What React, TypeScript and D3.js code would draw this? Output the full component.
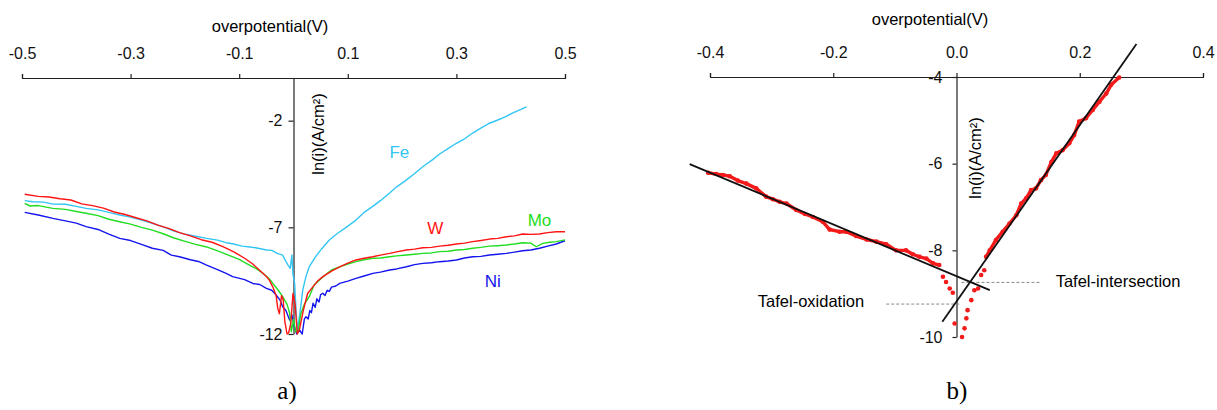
import React, { useEffect, useRef } from 'react';
import * as d3 from 'd3';

type Pt = [number, number];

// ---- panel a: ln(i) vs overpotential for four metals ----
const ticksA = [-0.5, -0.3, -0.1, 0.1, 0.3, 0.5];
const yTicksA = [-2, -7, -12];

const feCurve: Pt[] = [
  [-0.495, -5.75], [-0.48, -5.8], [-0.46, -5.82], [-0.443, -5.91], [-0.42, -5.92], [-0.4, -6.02],
  [-0.382, -6.11], [-0.36, -6.18], [-0.34, -6.3], [-0.32, -6.42], [-0.3, -6.52], [-0.28, -6.66],
  [-0.26, -6.81], [-0.24, -6.98], [-0.22, -7.18], [-0.2, -7.32], [-0.18, -7.42], [-0.16, -7.52],
  [-0.14, -7.6], [-0.124, -7.72], [-0.11, -7.78], [-0.095, -7.88], [-0.08, -7.92], [-0.065, -7.98],
  [-0.05, -8.06], [-0.04, -8.08], [-0.03, -8.22], [-0.02, -8.3], [-0.014, -8.6], [-0.01, -8.77],
  [-0.006, -8.92], [-0.003, -8.3], [-0.001, -9.2], [0.002, -9.6], [0.005, -11.0], [0.007, -11.81],
  [0.012, -11.0], [0.017, -9.94], [0.023, -9.3], [0.029, -8.85], [0.04, -8.4], [0.052, -8.0],
  [0.066, -7.59], [0.08, -7.3], [0.097, -7.0], [0.115, -6.66], [0.13, -6.3], [0.146, -6.02],
  [0.16, -5.75], [0.177, -5.39], [0.19, -5.1], [0.207, -4.8], [0.222, -4.5], [0.238, -4.16],
  [0.255, -3.85], [0.27, -3.55], [0.285, -3.3], [0.3, -3.06], [0.315, -2.85], [0.33, -2.58],
  [0.345, -2.35], [0.361, -2.12], [0.375, -1.98], [0.39, -1.82], [0.405, -1.62], [0.418, -1.48],
  [0.429, -1.35],
];

const wCurve: Pt[] = [
  [-0.495, -5.45], [-0.47, -5.55], [-0.45, -5.58], [-0.43, -5.66], [-0.41, -5.72], [-0.39, -5.9],
  [-0.37, -5.98], [-0.35, -6.1], [-0.33, -6.28], [-0.31, -6.4], [-0.29, -6.55], [-0.27, -6.7],
  [-0.25, -6.9], [-0.23, -7.05], [-0.21, -7.25], [-0.19, -7.4], [-0.17, -7.58], [-0.15, -7.7],
  [-0.13, -7.9], [-0.11, -8.15], [-0.09, -8.45], [-0.075, -8.72], [-0.063, -9.0], [-0.05, -9.3],
  [-0.044, -9.5], [-0.038, -9.8], [-0.032, -10.2], [-0.029, -10.8], [-0.026, -11.05], [-0.022, -10.2],
  [-0.019, -10.4], [-0.016, -11.4], [-0.012, -12], [-0.009, -11.95], [-0.005, -11.5], [-0.001, -10.1],
  [0.003, -10.6], [0.007, -12], [0.011, -11.8], [0.018, -10.9], [0.026, -10.1], [0.036, -9.78],
  [0.045, -9.5], [0.054, -9.31], [0.07, -9.05], [0.085, -8.85], [0.1, -8.68], [0.115, -8.53],
  [0.13, -8.45], [0.146, -8.38], [0.16, -8.3], [0.177, -8.22], [0.19, -8.15], [0.208, -8.06],
  [0.223, -8.02], [0.238, -7.96], [0.254, -7.94], [0.269, -7.88], [0.285, -7.84], [0.3, -7.78],
  [0.315, -7.74], [0.33, -7.67], [0.345, -7.62], [0.361, -7.55], [0.376, -7.52], [0.392, -7.44],
  [0.407, -7.4], [0.422, -7.31], [0.437, -7.33], [0.453, -7.31], [0.468, -7.25], [0.484, -7.21],
  [0.5, -7.21],
];

const moCurve: Pt[] = [
  [-0.495, -5.88], [-0.485, -6.0], [-0.47, -5.98], [-0.443, -6.11], [-0.42, -6.16], [-0.4, -6.26],
  [-0.382, -6.34], [-0.36, -6.45], [-0.34, -6.62], [-0.32, -6.74], [-0.3, -6.85], [-0.28, -7.0],
  [-0.26, -7.13], [-0.24, -7.3], [-0.22, -7.5], [-0.198, -7.67], [-0.18, -7.8], [-0.16, -7.92],
  [-0.136, -8.14], [-0.12, -8.3], [-0.1, -8.5], [-0.087, -8.69], [-0.07, -8.92], [-0.056, -9.16],
  [-0.045, -9.4], [-0.038, -9.63], [-0.028, -9.95], [-0.02, -10.25], [-0.012, -10.6], [-0.007, -11.03],
  [-0.004, -11.9], [0.0, -11.3], [0.004, -11.9], [0.009, -11.8], [0.013, -11.1], [0.02, -10.6],
  [0.029, -10.25], [0.038, -9.7], [0.048, -9.47], [0.06, -9.2], [0.07, -9.0], [0.085, -8.85],
  [0.1, -8.72], [0.115, -8.61], [0.13, -8.52], [0.146, -8.45], [0.16, -8.44], [0.177, -8.38],
  [0.19, -8.34], [0.208, -8.3], [0.223, -8.26], [0.238, -8.22], [0.254, -8.2], [0.269, -8.14],
  [0.285, -8.12], [0.3, -8.06], [0.315, -8.04], [0.33, -7.98], [0.345, -7.94], [0.361, -7.88],
  [0.376, -7.86], [0.392, -7.83], [0.407, -7.78], [0.422, -7.72], [0.437, -7.74], [0.447, -7.91],
  [0.459, -7.75], [0.472, -7.7], [0.484, -7.67], [0.5, -7.59],
];

const niCurve: Pt[] = [
  [-0.495, -6.3], [-0.47, -6.42], [-0.443, -6.58], [-0.42, -6.7], [-0.4, -6.8], [-0.382, -6.97],
  [-0.36, -7.1], [-0.34, -7.32], [-0.32, -7.52], [-0.3, -7.62], [-0.28, -7.8], [-0.26, -7.98],
  [-0.24, -8.08], [-0.225, -8.3], [-0.21, -8.38], [-0.19, -8.52], [-0.175, -8.6], [-0.16, -8.77],
  [-0.14, -8.98], [-0.125, -9.15], [-0.112, -9.31], [-0.09, -9.45], [-0.075, -9.63], [-0.062, -9.68],
  [-0.05, -9.86], [-0.04, -9.95], [-0.032, -10.17], [-0.025, -10.4], [-0.02, -10.72], [-0.014, -10.9],
  [-0.007, -11.35], [-0.003, -11.1], [0.002, -11.7], [0.006, -12], [0.011, -11.81], [0.016, -12],
  [0.02, -11.3], [0.023, -11.19], [0.027, -11.3], [0.03, -10.9], [0.033, -11.0], [0.036, -10.56],
  [0.04, -10.75], [0.043, -10.35], [0.047, -10.5], [0.05, -10.15], [0.054, -10.09], [0.058, -10.2],
  [0.062, -9.95], [0.066, -10.0], [0.07, -9.8], [0.078, -9.75], [0.085, -9.63], [0.1, -9.52],
  [0.115, -9.39], [0.13, -9.28], [0.146, -9.16], [0.16, -9.1], [0.177, -9.0], [0.19, -8.95],
  [0.208, -8.85], [0.223, -8.75], [0.238, -8.69], [0.254, -8.66], [0.269, -8.61], [0.285, -8.58],
  [0.3, -8.53], [0.315, -8.44], [0.33, -8.38], [0.345, -8.36], [0.361, -8.3], [0.376, -8.26],
  [0.392, -8.22], [0.407, -8.16], [0.422, -8.1], [0.437, -8.06], [0.453, -7.98], [0.468, -7.88],
  [0.484, -7.78], [0.5, -7.63],
];

const seriesNames = ['Fe', 'Ni', 'Mo', 'W'];
const seriesColors = ['#33c6f4', '#1414ee', '#22dd22', '#ff1414'];
const seriesData = [feCurve, niCurve, moCurve, wCurve];
// where each metal's name sits, in data units
const seriesLabelAt: Pt[] = [[0.195, -3.45], [0.367, -9.5], [0.453, -6.65], [0.261, -7.03]];

// ---- panel b: Tafel extrapolation ----
const ticksB = [-0.4, -0.2, 0.0, 0.2, 0.4];
const yTicksB = [-4, -6, -8, -10];

const tafelPoints: Pt[] = [
  [-0.403, -6.21], [-0.39, -6.24], [-0.379, -6.26], [-0.368, -6.29], [-0.355, -6.39], [-0.341, -6.46],
  [-0.325, -6.57], [-0.309, -6.76], [-0.298, -6.82], [-0.287, -6.88], [-0.276, -6.92], [-0.26, -7.07],
  [-0.246, -7.16], [-0.233, -7.23], [-0.217, -7.34], [-0.206, -7.52], [-0.19, -7.57], [-0.179, -7.57],
  [-0.163, -7.67], [-0.146, -7.75], [-0.13, -7.8], [-0.114, -7.86], [-0.098, -8.0], [-0.082, -8.0],
  [-0.071, -8.09], [-0.06, -8.15], [-0.049, -8.19], [-0.038, -8.3], [-0.028, -8.34], [-0.022, -8.61],
  [-0.017, -8.73], [-0.011, -8.88], [-0.006, -8.98], [-0.003, -9.69], [0.009, -10.0], [0.013, -9.8],
  [0.016, -9.57], [0.018, -9.38], [0.024, -9.15], [0.029, -8.92], [0.035, -8.88], [0.04, -8.57],
  [0.045, -8.46], [0.048, -8.15], [0.054, -8.0], [0.064, -7.76], [0.075, -7.57], [0.086, -7.38],
  [0.097, -7.19], [0.105, -6.92], [0.113, -6.8], [0.121, -6.61], [0.129, -6.57], [0.137, -6.38],
  [0.145, -6.26], [0.154, -5.96], [0.162, -5.76], [0.172, -5.69], [0.183, -5.53], [0.191, -5.34],
  [0.199, -5.03], [0.21, -4.95], [0.221, -4.76], [0.232, -4.57], [0.243, -4.38], [0.251, -4.18],
  [0.264, -4.01],
];

const cathodicFit: Pt[] = [[-0.433, -6.01], [0.054, -8.92]];
const anodicFit: Pt[] = [[-0.023, -9.65], [0.292, -3.24]];
const intersectionGuide: Pt[] = [[0.008, -8.74], [0.135, -8.74]];
const oxidationGuide: Pt[] = [[-0.114, -9.24], [0.005, -9.24]];

const FONT = '"Liberation Sans", Arial, sans-serif';

const App = () => {
  const svgRef = useRef<SVGSVGElement>(null);

  useEffect(() => {
    const svg = d3.select(svgRef.current);
    svg.selectAll('*').remove();

    const xA = d3.scaleLinear().domain([-0.5, 0.5]).range([22, 565]);
    const yA = d3.scaleLinear().domain([0, -12]).range([78, 334]);
    const xB = d3.scaleLinear().domain([-0.4, 0.4]).range([710, 1203]);
    const yB = d3.scaleLinear().domain([-4, -10]).range([77, 337]);

    const styleAxis = (g: any) => {
      g.selectAll('path, line').attr('stroke', '#222').attr('stroke-width', 1.2);
      g.selectAll('text').attr('font-family', FONT).attr('font-size', 16).attr('fill', '#111');
    };

    // panel a axes
    svg.append('g')
      .attr('transform', `translate(0,${yA(0)})`)
      .call(d3.axisTop(xA).tickValues(ticksA).tickSize(4).tickPadding(15).tickFormat((d: any) => d.toFixed(1)))
      .call(styleAxis);
    svg.append('g')
      .attr('transform', `translate(${xA(0)},0)`)
      .call(d3.axisLeft(yA).tickValues(yTicksA).tickSize(5).tickSizeOuter(0).tickPadding(6).tickFormat((d: any) => String(d)))
      .call(styleAxis);

    svg.append('text')
      .attr('x', 270).attr('y', 32)
      .attr('text-anchor', 'middle')
      .attr('font-family', FONT).attr('font-size', 16.5)
      .text('overpotential(V)');
    svg.append('text')
      .attr('transform', `translate(324,134) rotate(-90)`)
      .attr('text-anchor', 'middle')
      .attr('font-family', FONT).attr('font-size', 16.5)
      .text('ln(i)(A/cm²)');

    const lineA = d3.line<Pt>().x(d => xA(d[0])).y(d => yA(d[1]));
    seriesData.forEach((data, i) => {
      svg.append('path')
        .attr('d', lineA(data))
        .attr('fill', 'none')
        .attr('stroke', seriesColors[i])
        .attr('stroke-width', 1.4)
        .attr('stroke-linejoin', 'round');
    });
    seriesNames.forEach((name, i) => {
      svg.append('text')
        .attr('x', xA(seriesLabelAt[i][0]))
        .attr('y', yA(seriesLabelAt[i][1]))
        .attr('dy', '0.35em')
        .attr('text-anchor', 'middle')
        .attr('font-family', FONT).attr('font-size', 17)
        .attr('fill', seriesColors[i])
        .text(name);
    });

    // panel b axes
    svg.append('g')
      .attr('transform', `translate(0,${yB(-4)})`)
      .call(d3.axisTop(xB).tickValues(ticksB).tickSize(4).tickPadding(15).tickFormat((d: any) => d.toFixed(1)))
      .call(styleAxis);
    svg.append('g')
      .attr('transform', `translate(${xB(0)},0)`)
      .call(d3.axisLeft(yB).tickValues(yTicksB).tickSize(4).tickSizeOuter(0).tickPadding(10).tickFormat((d: any) => String(d)))
      .call(styleAxis);

    svg.append('text')
      .attr('x', 930).attr('y', 25)
      .attr('text-anchor', 'middle')
      .attr('font-family', FONT).attr('font-size', 16.5)
      .text('overpotential(V)');
    svg.append('text')
      .attr('transform', `translate(981,158) rotate(-90)`)
      .attr('text-anchor', 'middle')
      .attr('font-family', FONT).attr('font-size', 16.5)
      .text('ln(i)(A/cm²)');

    const lineB = d3.line<Pt>().x(d => xB(d[0])).y(d => yB(d[1]));

    // dashed guides
    [intersectionGuide, oxidationGuide].forEach(g => {
      svg.append('path')
        .attr('d', lineB(g))
        .attr('stroke', '#888')
        .attr('stroke-width', 1)
        .attr('stroke-dasharray', '3,2');
    });

    // red measured points: chain the dense runs, keep the sparse dip as separate dots
    for (let i = 1; i < tafelPoints.length; i++) {
      const a = tafelPoints[i - 1];
      const b = tafelPoints[i];
      const dist = Math.hypot(xB(b[0]) - xB(a[0]), yB(b[1]) - yB(a[1]));
      const inDip = (p: Pt) => p[0] > -0.025 && p[0] < 0.046;
      if (dist < 18 && !inDip(a) && !inDip(b)) {
        svg.append('path')
          .attr('d', lineB([a, b]))
          .attr('stroke', '#f21a1a')
          .attr('stroke-width', 3.4)
          .attr('stroke-linecap', 'round');
      }
    }
    svg.selectAll('.pt')
      .data(tafelPoints)
      .enter()
      .append('circle')
      .attr('class', 'pt')
      .attr('cx', d => xB(d[0]))
      .attr('cy', d => yB(d[1]))
      .attr('r', 2.3)
      .attr('fill', '#f21a1a');

    [cathodicFit, anodicFit].forEach(f => {
      svg.append('path')
        .attr('d', lineB(f))
        .attr('stroke', '#111')
        .attr('stroke-width', 1.8);
    });

    svg.append('text')
      .attr('x', xB(intersectionGuide[1][0]) + 16)
      .attr('y', yB(intersectionGuide[0][1]))
      .attr('dy', '0.3em')
      .attr('font-family', FONT).attr('font-size', 16.5)
      .text('Tafel-intersection');
    svg.append('text')
      .attr('x', xB(oxidationGuide[0][0]) - 22)
      .attr('y', yB(oxidationGuide[0][1]))
      .attr('dy', '0.15em')
      .attr('text-anchor', 'end')
      .attr('font-family', FONT).attr('font-size', 16.5)
      .text('Tafel-oxidation');

    // captions
    [['a)', 287], ['b)', 957]].forEach(([t, x]) => {
      svg.append('text')
        .attr('x', x as number).attr('y', 399)
        .attr('text-anchor', 'middle')
        .attr('font-family', '"Liberation Serif", "Times New Roman", serif')
        .attr('font-size', 25)
        .text(t as string);
    });
  }, []);

  return (
    <div style={{ position: 'absolute', left: 0, top: 0, width: 1217, height: 410, background: '#fff' }}>
      <svg ref={svgRef} width={1217} height={410}></svg>
    </div>
  );
};

export default App;
